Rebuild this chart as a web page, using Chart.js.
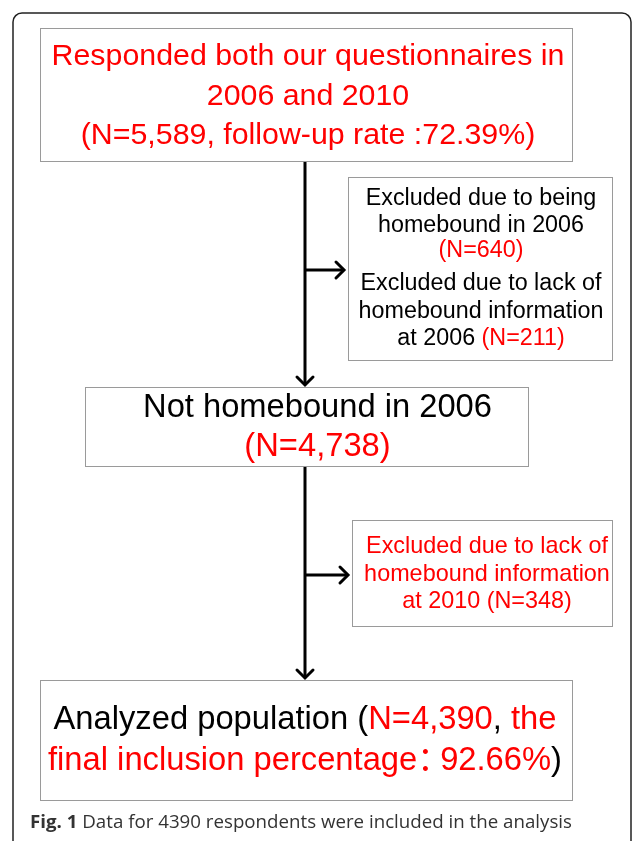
<!DOCTYPE html>
<html>
<head>
<meta charset="utf-8">
<script src="https://cdn.jsdelivr.net/npm/chart.js@4"></script>
<style>
  html, body { margin: 0; padding: 0; background: #fff; }
  #wrap { width: 633px; height: 841px; }
</style>
</head>
<body>
<div id="wrap"><canvas id="flow" width="633" height="841"></canvas></div>
<script>
// --- Data ---
const stageLabels = ["Responded both our questionnaires in 2006 and 2010", "Not homebound in 2006", "Analyzed population"];
const stageCounts = [5589, 4738, 4390];
const followUpRate = 72.39;
const inclusionPct = 92.66;
const exclusionLabels = ["Excluded due to being homebound in 2006", "Excluded due to lack of homebound information at 2006", "Excluded due to lack of homebound information at 2010"];
const exclusionCounts = [640, 211, 348];
const captionLabel = "Fig. 1";
const captionText = " Data for 4390 respondents were included in the analysis";

// --- Layout (figure units = pixels of the reference) ---
// fitW: width the first line takes in the figure, used to pick the font size
const layout = {
    frame: { x: 13, y: 13, w: 618, h: 860, r: 9 },
    stage: [
        { x: 40, y: 28, w: 532, h: 133, fitW: 513, lineY: [57, 97, 136], dx: 2 },
        { x: 85, y: 387, w: 443, h: 79, fitW: 349, lineY: [408, 447], dx: 11 },
        { x: 40, y: 680, w: 532, h: 120, fitW: 503, lineY: [720, 761], dx: -1 }
    ],
    excl: [
        { x: 348, y: 177, w: 264, h: 183, fitW: 241, fitLine: 3, lineY: [199, 226, 251, 284, 312, 339], dx: 1, arrowY: 270 },
        { x: 352, y: 520, w: 260, h: 106, fitW: 242, lineY: [547, 575, 602], dx: 5, arrowY: 575 }
    ],
    spineX: 305,
    caption: { x: 30, y: 823, w: 542, size: 18 }
};

const RED = "#ff0000";
const BLACK = "#000000";
const FONT = '"Liberation Sans", "Noto Sans CJK SC", sans-serif';
const CAP_FONT = '"Open Sans", "Noto Sans", sans-serif';
const fmt = n => n.toLocaleString("en-US");

// Break the labels the way the figure does
function stageLines(i) {
    if (i === 0) {
        return [
            [[stageLabels[0].slice(0, 36), RED]],
            [[stageLabels[0].slice(37), RED]],
            [["(N=" + fmt(stageCounts[0]) + ", follow-up rate :" + followUpRate + "%)", RED]]
        ];
    }
    if (i === 1) {
        return [
            [[stageLabels[1], BLACK]],
            [["(N=" + fmt(stageCounts[1]) + ")", RED]]
        ];
    }
    // the full-width colon is set tighter than its em box
    return [
        [[stageLabels[2] + " (", BLACK], ["N=" + fmt(stageCounts[2]), RED], [", ", BLACK], ["the", RED]],
        [["final inclusion percentage", RED], ["\uFF1A", RED, 0.7], [inclusionPct + "%", RED], [")", BLACK]]
    ];
}

function exclLines(i) {
    if (i === 0) {
        const a = exclusionLabels[0], b = exclusionLabels[1];
        return [
            [[a.slice(0, 21), BLACK]],
            [[a.slice(22), BLACK]],
            [["(N=" + exclusionCounts[0] + ")", RED]],
            [[b.slice(0, 23), BLACK]],
            [[b.slice(24, 45), BLACK]],
            [[b.slice(46) + " ", BLACK], ["(N=" + exclusionCounts[1] + ")", RED]]
        ];
    }
    const c = exclusionLabels[2];
    return [
        [[c.slice(0, 23), RED]],
        [[c.slice(24, 45), RED]],
        [[c.slice(46) + " (N=" + exclusionCounts[2] + ")", RED]]
    ];
}

function segAdvance(ctx, s, size) {
    ctx.font = size + "px " + FONT;
    return ctx.measureText(s[0]).width * (s[2] || 1);
}

function lineWidth(ctx, segs, size) {
    return segs.reduce((w, s) => w + segAdvance(ctx, s, size), 0);
}

function drawRichLine(ctx, segs, cx, y, size) {
    const total = lineWidth(ctx, segs, size);
    let x = cx - total / 2;
    segs.forEach(s => {
        const adv = segAdvance(ctx, s, size);
        ctx.fillStyle = s[1];
        ctx.fillText(s[0], x, y);
        x += adv;
    });
}

function arrowHead(ctx, x, y, dir) {
    const L = 8;
    ctx.beginPath();
    if (dir === "down") {
        ctx.moveTo(x - L, y - L); ctx.lineTo(x, y); ctx.lineTo(x + L, y - L);
    } else {
        ctx.moveTo(x - L, y - L); ctx.lineTo(x, y); ctx.lineTo(x - L, y + L);
    }
    ctx.stroke();
}

const flowPlugin = {
    id: "flow",
    beforeDatasetsDraw(chart) {
        const ctx = chart.ctx;
        const sx = chart.scales.x, sy = chart.scales.y;
        const px = v => sx.getPixelForValue(v);
        const py = v => sy.getPixelForValue(v);
        const f = layout.frame;
        ctx.save();
        ctx.strokeStyle = "#222";
        ctx.lineWidth = 1.5;
        ctx.beginPath();
        ctx.roundRect(px(f.x), py(f.y), px(f.x + f.w) - px(f.x), py(f.y + f.h) - py(f.y), f.r);
        ctx.stroke();
        ctx.restore();
    },
    afterDatasetsDraw(chart) {
        const ctx = chart.ctx;
        const sx = chart.scales.x, sy = chart.scales.y;
        const px = v => sx.getPixelForValue(v);
        const py = v => sy.getPixelForValue(v);

        ctx.save();
        ctx.textBaseline = "middle";

        const boxes = layout.stage.map((b, i) => ({ b, lines: stageLines(i) }))
            .concat(layout.excl.map((b, i) => ({ b, lines: exclLines(i) })));
        boxes.forEach(({ b, lines }) => {
            ctx.fillStyle = "#fff";
            ctx.fillRect(px(b.x), py(b.y), px(b.x + b.w) - px(b.x), py(b.y + b.h) - py(b.y));
            ctx.strokeStyle = "#9a9a9a";
            ctx.lineWidth = 1;
            ctx.strokeRect(px(b.x) + 0.5, py(b.y) + 0.5, px(b.x + b.w) - px(b.x), py(b.y + b.h) - py(b.y));
            const ref = lines[b.fitLine || 0];
            const size = 20 * b.fitW / lineWidth(ctx, ref, 20);
            lines.forEach((segs, k) => drawRichLine(ctx, segs, px(b.x + b.w / 2 + b.dx), py(b.lineY[k]), size));
        });

        ctx.strokeStyle = BLACK;
        ctx.lineWidth = 3;
        ctx.lineCap = "round";
        arrowHead(ctx, px(layout.spineX), py(layout.stage[1].y - 2), "down");
        arrowHead(ctx, px(layout.spineX), py(layout.stage[2].y - 2), "down");
        layout.excl.forEach(e => arrowHead(ctx, px(e.x - 4), py(e.arrowY), "right"));

        // caption
        const c = layout.caption;
        ctx.font = "bold " + c.size + "px " + CAP_FONT;
        const w1 = ctx.measureText(captionLabel).width;
        ctx.font = c.size + "px " + CAP_FONT;
        const w2 = ctx.measureText(captionText).width;
        const k = (px(c.x + c.w) - px(c.x)) / (w1 + w2);
        ctx.translate(px(c.x), py(c.y));
        ctx.scale(k, 1);
        ctx.fillStyle = "#333";
        ctx.font = "bold " + c.size + "px " + CAP_FONT;
        ctx.fillText(captionLabel, 0, 0);
        ctx.font = c.size + "px " + CAP_FONT;
        ctx.fillText(captionText, w1, 0);
        ctx.restore();
    }
};

// connector lines as line datasets, built from the layout
const s = layout.stage, e = layout.excl, X = layout.spineX;
const connectors = [
    [{ x: X, y: s[0].y + s[0].h }, { x: X, y: s[1].y - 3 }],
    [{ x: X, y: e[0].arrowY }, { x: e[0].x - 5, y: e[0].arrowY }],
    [{ x: X, y: s[1].y + s[1].h }, { x: X, y: s[2].y - 3 }],
    [{ x: X, y: e[1].arrowY }, { x: e[1].x - 5, y: e[1].arrowY }]
];

function build() {
    new Chart(document.getElementById("flow"), {
        type: "scatter",
        data: {
            datasets: connectors.map(pts => ({
                data: pts,
                showLine: true,
                borderColor: BLACK,
                borderWidth: 3,
                pointRadius: 0,
                fill: false
            }))
        },
        options: {
            responsive: false,
            animation: false,
            layout: { padding: 0 },
            plugins: { legend: { display: false }, tooltip: { enabled: false } },
            scales: {
                x: { type: "linear", min: 0, max: 633, display: false },
                y: { type: "linear", min: 0, max: 841, reverse: true, display: false }
            }
        },
        plugins: [flowPlugin]
    });
}

Promise.all([
    document.fonts.load('20px "Liberation Sans"'),
    document.fonts.load('20px "Noto Sans CJK SC"', "\uFF1A"),
    document.fonts.load('18px "Open Sans"'),
    document.fonts.load('bold 18px "Open Sans"')
]).catch(() => {}).then(build);
</script>
</body>
</html>
